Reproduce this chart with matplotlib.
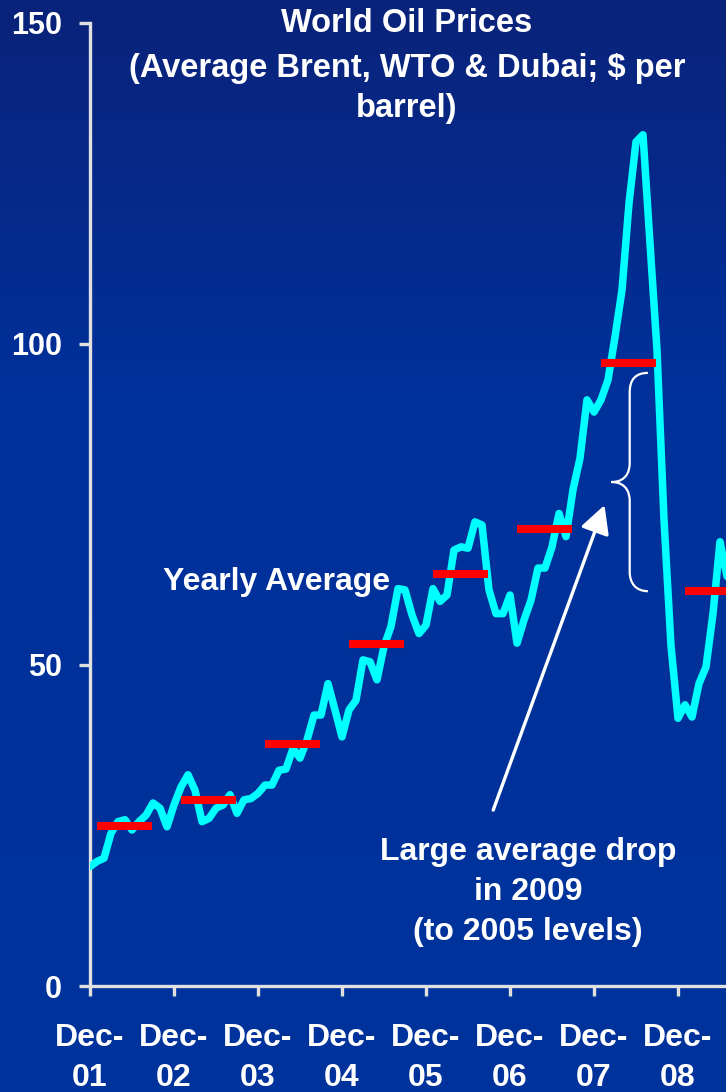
import numpy as np
import matplotlib
matplotlib.use("Agg")
import matplotlib.pyplot as plt
from matplotlib.path import Path
from matplotlib.patches import PathPatch
from matplotlib.colors import LinearSegmentedColormap

# ---------------- data ----------------
# monthly average oil price (Brent, WTI, Dubai), Dec-2001 .. Jul-2009
prices = [
    18.6,                                                                   # Dec-01
    19.4, 19.9, 23.8, 25.6, 25.9, 24.3, 25.6, 26.6, 28.5, 27.7, 24.8, 28.2,  # 2002
    31.0, 32.9, 30.5, 25.6, 26.1, 27.7, 28.2, 29.8, 26.9, 29.0, 29.2, 30.0,  # 2003
    31.3, 31.3, 33.6, 33.8, 37.0, 35.5, 38.3, 42.2, 42.2, 47.1, 43.0, 38.8,  # 2004
    43.0, 44.5, 50.8, 50.5, 47.7, 52.9, 56.0, 61.9, 61.7, 57.8, 54.9, 56.2,  # 2005
    61.9, 59.9, 60.9, 67.9, 68.4, 68.2, 72.3, 71.8, 61.7, 58.0, 58.0, 60.9,  # 2006
    53.4, 57.0, 60.1, 65.1, 65.1, 68.4, 73.6, 70.0, 77.3, 82.2, 91.3, 89.4,  # 2007
    91.3, 94.4, 101.1, 108.4, 121.9, 131.5, 132.6, 115.7, 99.1, 72.6, 53.0, 41.7,  # 2008
    43.8, 41.9, 47.1, 49.7, 58.0, 69.2, 63.8,                               # 2009
]
years = [2002, 2003, 2004, 2005, 2006, 2007, 2008, 2009]
yearly_avg = [25.0, 28.9, 37.7, 53.3, 64.2, 71.2, 97.0, 61.5]
tick_labels = ["Dec-\n01", "Dec-\n02", "Dec-\n03", "Dec-\n04",
               "Dec-\n05", "Dec-\n06", "Dec-\n07", "Dec-\n08"]
y_ticks = [0, 50, 100, 150]

FONT = "Liberation Sans"

W, H = 726, 1092
fig = plt.figure(figsize=(W / 100, H / 100), dpi=100)

# background gradient
bg = fig.add_axes([0, 0, 1, 1], zorder=0)
bg.axis("off")
grad = np.linspace(0, 1, 300).reshape(-1, 1)
cmap = LinearSegmentedColormap.from_list(
    "bg", [(0.0, "#0a237a"), (0.35, "#00309a"), (1.0, "#00339c")])
bg.imshow(grad, aspect="auto", cmap=cmap, extent=[0, 1, 0, 1], origin="upper")

ax = fig.add_axes([90 / W, (H - 986) / H, (W - 90) / W, (986 - 23) / H], zorder=1)
ax.patch.set_alpha(0)

x = np.arange(len(prices))
ax.plot(x, prices, color="#00ffff", lw=5.4, solid_joinstyle="round",
        solid_capstyle="round", zorder=3)

for i, (yr, v) in enumerate(zip(years, yearly_avg)):
    ax.hlines(v, 12 * i + 1, 12 * i + 8.85, colors="#ff0000", lw=5.8, zorder=4,
              capstyle="butt")

ax.set_xlim(0, (W - 90) / 7)
ax.set_ylim(0, 150)

for s in ["top", "right"]:
    ax.spines[s].set_visible(False)
for s in ["left", "bottom"]:
    ax.spines[s].set_color("#e0e0e0")
    ax.spines[s].set_linewidth(2.4)

ax.set_yticks(y_ticks)
ax.set_yticklabels([str(t) for t in y_ticks], fontsize=22, fontweight="bold",
                   color="white", family=FONT)
ax.set_xticks(np.arange(len(tick_labels)) * 12)
ax.set_xticklabels(tick_labels, fontsize=23, fontweight="bold", color="white",
                   family=FONT, linespacing=1.45)
ax.tick_params(axis="y", length=8, width=2.4, color="#e0e0e0", pad=12)
ax.tick_params(axis="x", length=7, width=2.4, color="#e0e0e0", pad=19.5)

# title
for txt, yy in [("World Oil Prices", 23),
                ("(Average Brent, WTO & Dubai; $ per", 69),
                ("barrel)", 109)]:
    fig.text(407 / W, 1 - yy / H, txt, ha="center", va="center",
             fontsize=23.5, fontweight="bold", color="white", family=FONT)

# annotations
fig.text(277 / W, 1 - 582 / H, "Yearly Average", ha="center", va="center",
         fontsize=23, fontweight="bold", color="white", family=FONT)
fig.text(528 / W, 1 - 892 / H, "Large average drop\nin 2009\n(to 2005 levels)",
         ha="center", va="center", fontsize=23, fontweight="bold", color="white",
         family=FONT, linespacing=1.45)

ax.annotate("", xy=(73.5, 74.9), xytext=(57.6, 27.4),
            arrowprops=dict(arrowstyle="-|>,head_length=0.85,head_width=0.45",
                            color="white", lw=2.4, mutation_scale=20,
                            shrinkA=0, shrinkB=0), zorder=5)

# curly brace between the 2008 and 2009 averages
top = yearly_avg[6] - 1.5
bot = yearly_avg[7]
mid = (top + bot) / 2
xv, xt, xm = 77.1, 79.7, 74.5
r = 3.0
verts = [
    (xt, top), (xv, top), (xv, top - r),
    (xv, mid + r),
    (xv, mid), (xm + 0.4, mid), (xm, mid),
    (xm + 0.4, mid), (xv, mid), (xv, mid - r),
    (xv, bot + r),
    (xv, bot + r * 0.45), (xv + 0.8, bot), (xt, bot),
]
codes = [Path.MOVETO, Path.CURVE3, Path.CURVE3,
         Path.LINETO,
         Path.CURVE4, Path.CURVE4, Path.CURVE4,
         Path.CURVE4, Path.CURVE4, Path.CURVE4,
         Path.LINETO,
         Path.CURVE4, Path.CURVE4, Path.CURVE4]
ax.add_patch(PathPatch(Path(verts, codes), fill=False, ec="white", lw=1.6, zorder=5))

fig.savefig("out.png", dpi=100)
